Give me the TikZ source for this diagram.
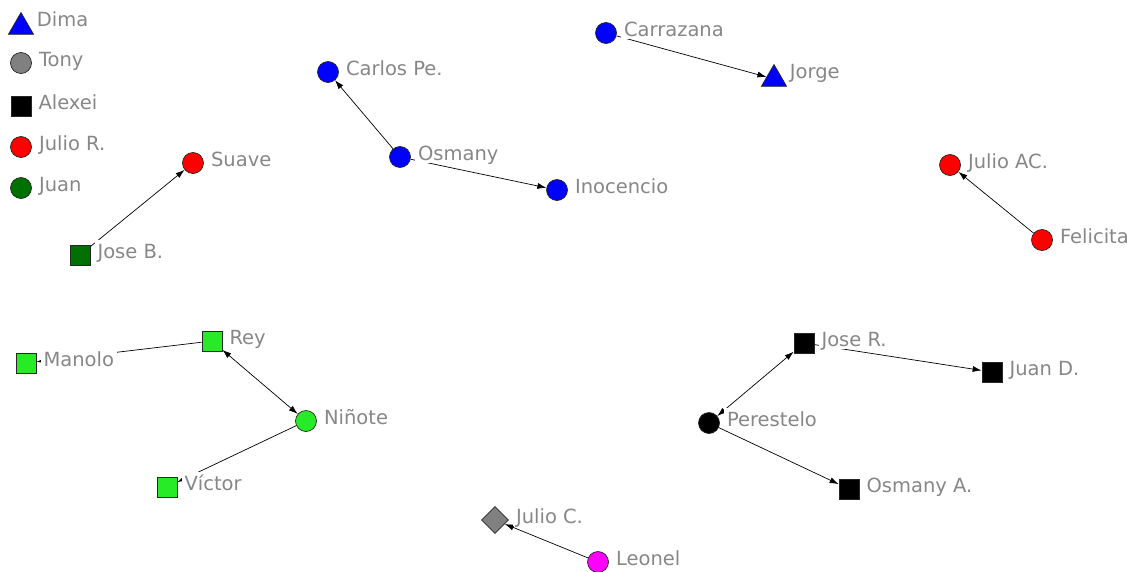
\documentclass[tikz,border=0pt]{standalone}
\usepackage{fontspec}
\newfontfamily\netfont{DejaVu Sans}
\usepackage{xcolor}
\usetikzlibrary{arrows.meta, shapes.geometric, backgrounds}

\definecolor{netblue}{RGB}{0,0,255}
\definecolor{netred}{RGB}{255,0,0}
\definecolor{netdkgreen}{RGB}{0,112,0}
\definecolor{netlime}{RGB}{40,235,40}
\definecolor{netgray}{RGB}{128,128,128}
\definecolor{netpink}{RGB}{255,0,255}
\definecolor{labelgray}{RGB}{135,135,135}

\begin{document}
\begin{tikzpicture}[
  x=1pt, y=-1pt,
  >={Latex[length=9pt, width=6pt]},
  label distance=4pt,
  lbl/.style={fill=white, text=labelgray, inner xsep=3pt, inner ysep=0pt,
              font=\netfont\fontsize{19.5}{21}\selectfont,
              text height=18pt, text depth=3pt, yshift=4.5pt},
  netdot/.style={circle, draw=black!85, line width=0.7pt,
                 minimum size=21pt, inner sep=0pt},
  netsq/.style ={rectangle, draw=black!85, line width=0.7pt,
                 minimum size=20pt, inner sep=0pt},
  nettri/.style={regular polygon, regular polygon sides=3, draw=black!85,
                 line width=0.7pt, minimum size=29pt, inner sep=0pt},
  netdia/.style={diamond, draw=black!85, line width=0.7pt,
                 minimum size=27pt, inner sep=0pt},
  arr/.style={->, line width=0.7pt},
  barr/.style={<->, line width=0.7pt},
]
\useasboundingbox (0,0) rectangle (1127,571);

%% ── Legend ──────────────────────────────────────────────────────────────────
\node[nettri, fill=netblue, label={[lbl, yshift=3.5pt]right:Dima}] (dima) at (21, 27) {};
\node[netdot, fill=netgray, label={[lbl]right:Tony}] (tony) at (21, 63) {};
\node[netsq, fill=black, label={[lbl]right:Alexei}] (alexei) at (21, 106) {};
\node[netdot, fill=netred, label={[lbl]right:Julio R.}] (julior) at (21, 147) {};
\node[netdot, fill=netdkgreen, label={[lbl]right:Juan}] (juan) at (21, 188) {};

%% ── Upper groups ────────────────────────────────────────────────────────────
\node[netdot, fill=netred, label={[lbl]right:Suave}] (suave) at (193, 163) {};
\node[netsq, fill=netdkgreen, label={[lbl]right:Jose B.}] (joseb) at (80, 255) {};

\node[netdot, fill=netblue, label={[lbl]right:Carlos Pe.}] (carlos) at (328, 72) {};
\node[netdot, fill=netblue, label={[lbl]right:Osmany}] (osmany) at (400, 157) {};
\node[netdot, fill=netblue, label={[lbl]right:Inocencio}] (inocencio) at (557, 190) {};

\node[netdot, fill=netblue, label={[lbl]right:Carrazana}] (carrazana) at (606, 33) {};
\node[nettri, fill=netblue, label={[lbl, yshift=3.5pt]right:Jorge}] (jorge) at (774, 79) {};

\node[netdot, fill=netred, label={[lbl]right:Julio AC.}] (julioac) at (950, 165) {};
\node[netdot, fill=netred, label={[lbl]right:Felicita}] (felicita) at (1042, 240) {};

%% ── Lower groups ────────────────────────────────────────────────────────────
\node[netsq, fill=netlime, label={[lbl]right:Manolo}] (manolo) at (26, 363) {};
\node[netsq, fill=netlime, label={[lbl]right:Rey}] (rey) at (212, 341) {};
\node[netdot, fill=netlime, label={[lbl]right:Niñote}] (ninote) at (306, 421) {};
\node[netsq, fill=netlime, label={[lbl]right:Víctor}] (victor) at (167, 487) {};

\node[netsq, fill=black, label={[lbl]right:Jose R.}] (joser) at (804, 343) {};
\node[netsq, fill=black, label={[lbl]right:Juan D.}] (juand) at (992, 372) {};
\node[netdot, fill=black, label={[lbl]right:Perestelo}] (perestelo) at (709, 423) {};
\node[netsq, fill=black, label={[lbl]right:Osmany A.}] (osmanya) at (849, 489) {};

\node[netdia, fill=netgray, label={[lbl]right:Julio C.}] (julioc) at (495, 520) {};
\node[netdot, fill=netpink, label={[lbl]right:Leonel}] (leonel) at (598, 562) {};

%% ── Ties (kept under the labels) ────────────────────────────────────────────
\begin{scope}[on background layer]
  \draw[arr] (joseb) -- (suave);
  \draw[arr] (osmany) -- (carlos);
  \draw[arr] (osmany) -- (inocencio);
  \draw[arr] (carrazana) -- (jorge);
  \draw[arr] (felicita) -- (julioac);

  \draw[arr] (rey) -- (manolo);
  \draw[barr] (rey) -- (ninote);
  \draw[arr] (ninote) -- (victor);

  \draw[barr] (perestelo) -- (joser);
  \draw[arr] (joser) -- (juand);
  \draw[arr] (perestelo) -- (osmanya);

  \draw[arr] (leonel) -- (julioc);
\end{scope}

\end{tikzpicture}
\end{document}
